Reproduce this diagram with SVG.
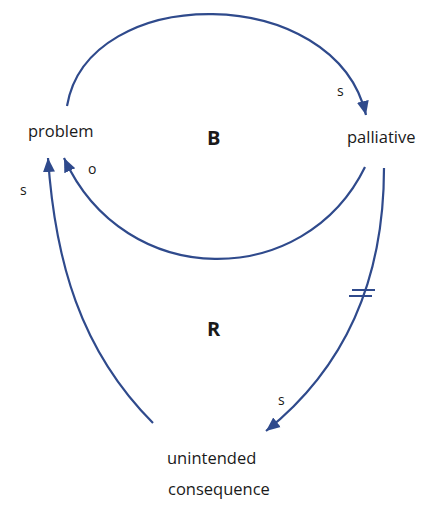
<svg xmlns="http://www.w3.org/2000/svg" width="426" height="510" viewBox="0 0 426 510">
<style>
.c{fill:none;stroke:#2F4A8C;stroke-width:2.2;}
.t{font-family:"Open Sans","Noto Sans",sans-serif;fill:#1a1a1a;font-size:16.5px;}
.s{font-family:"Open Sans","Noto Sans",sans-serif;fill:#1a1a1a;font-size:14px;}
.b{font-family:"Open Sans","Noto Sans",sans-serif;fill:#1a1a1a;font-size:20px;font-weight:bold;}
</style>
<defs>
<marker id="ah" markerUnits="userSpaceOnUse" markerWidth="16" markerHeight="14" refX="14" refY="6" orient="auto" viewBox="0 0 16 12">
<path d="M0,0 L14,6 L0,12 Z" fill="#2F4A8C"/>
</marker>
</defs>
<rect width="426" height="510" fill="#ffffff"/>
<g id="connectors">
<path class="c" d="M67,106 C88,-18 335,-18 366,115" marker-end="url(#ah)"/>
<path class="c" d="M365,167 C305,290 125,292 64,158" marker-end="url(#ah)"/>
<path class="c" d="M153,423 C80,350 55,260 48,158" marker-end="url(#ah)"/>
<path class="c" d="M384,168 C384,300 330,380 266,431" marker-end="url(#ah)"/>
<g id="delay" stroke="#2F4A8C" stroke-width="2">
<line x1="352" y1="290" x2="375" y2="290"/>
<line x1="349" y1="296" x2="372" y2="296"/>
</g>
</g>
<g id="labels">
<text class="s" x="337" y="96">s</text>
<text class="s" x="88" y="174">o</text>
<text class="s" x="20" y="195">s</text>
<text class="s" x="278" y="405">s</text>
<text class="b" x="207" y="145">B</text>
<text class="b" x="207" y="336">R</text>
</g>
<g id="problem"><text class="t" x="28" y="137">problem</text></g>
<g id="palliative"><text class="t" x="347" y="143">palliative</text></g>
<g id="unintended-consequence">
<text class="t" x="167" y="464">unintended</text>
<text class="t" x="168" y="495">consequence</text>
</g>
</svg>
